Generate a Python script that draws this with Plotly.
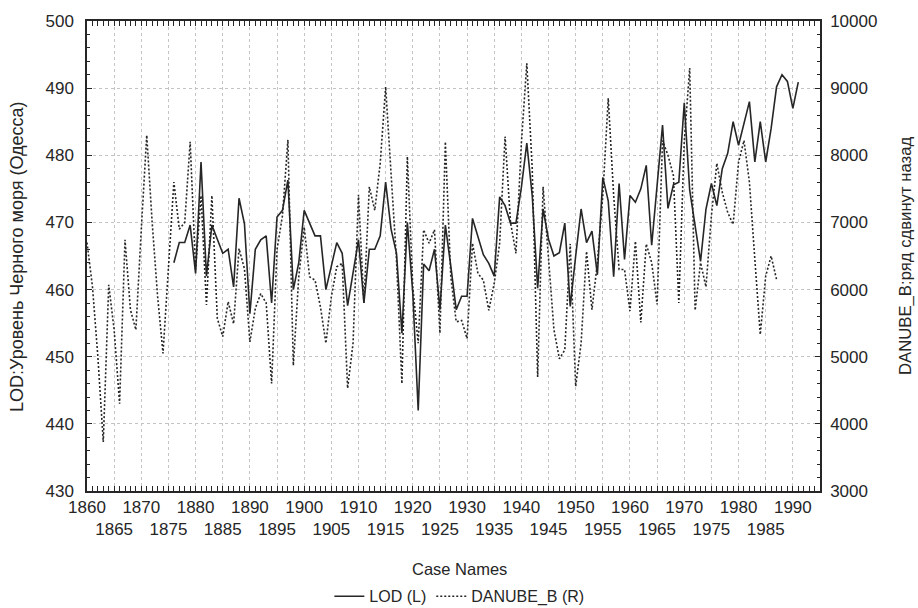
import plotly.graph_objects as go

# ---- data ----
lod_start = 1876
lod = [
    464, 467, 467, 469.6,                                              # 1876-1879
    462.4, 479, 462, 469.6, 467.5, 465.4, 466, 460.4, 473.6, 469.8,    # 1880s
    456.4, 466, 467.4, 468, 458, 470.8, 471.8, 476.3, 460, 464,        # 1890s
    471.8, 470, 468, 468, 460, 463.5, 467, 465.4, 457.6, 462.5,        # 1900s
    467.4, 458, 466, 466, 468, 476, 469, 465.4, 453.5, 470,            # 1910s
    459.5, 442, 463.8, 462.8, 466, 457, 469.6, 463.5, 457, 459,        # 1920s
    459, 470.6, 468, 465.2, 463.9, 462, 473.8, 472.5, 469.9, 469.9,    # 1930s
    475.2, 481.8, 474, 460.2, 472, 467.5, 465, 465.5, 469.9, 457.5,    # 1940s
    465, 472, 467, 468.7, 462.2, 476.7, 473.2, 461.9, 475.8, 464.5,    # 1950s
    474, 473, 475, 478.5, 466.6, 476, 484.5, 472.1, 475.6, 476,        # 1960s
    487.8, 474.8, 469.5, 464.2, 472, 475.8, 472.5, 478, 480.3, 485,    # 1970s
    481.5, 485, 488, 479, 485, 479, 484, 490.2, 492, 491,              # 1980s
    487, 490.9,                                                        # 1990-1991
]
lod_years = list(range(lod_start, lod_start + len(lod)))

danube_start = 1860
danube = [
    6700, 6050, 5000, 3730, 6070, 5400, 4300, 6740, 5700, 5400,   # 1860s
    6900, 8300, 7000, 5900, 5050, 6300, 7600, 6900, 7000, 8200,   # 1870s
    6300, 7400, 5770, 7400, 5570, 5300, 5820, 5490, 6610, 6310,   # 1880s
    5220, 5720, 5940, 5800, 4600, 6600, 7100, 8230, 4870, 6190,   # 1890s
    6930, 6190, 6140, 5740, 5200, 5890, 6340, 6390, 4530, 5200,   # 1900s
    7410, 5800, 7530, 7180, 7880, 9020, 7780, 6440, 4600, 7980,   # 1910s
    6040, 5200, 6890, 6690, 6890, 5350, 8200, 6190, 5520, 5540,   # 1920s
    5270, 6690, 6240, 6140, 5690, 6090, 6690, 8280, 7000, 6540,   # 1930s
    8180, 9370, 7800, 4700, 7530, 6400, 5400, 4970, 5100, 6680,   # 1940s
    4560, 5200, 6570, 5700, 6400, 7400, 8850, 7400, 6300, 6300,   # 1950s
    5680, 6720, 5510, 6680, 6400, 5780, 8220, 8000, 7700, 5800,   # 1960s
    8200, 9300, 5690, 6400, 6040, 7100, 7880, 7450, 7150, 6970,   # 1970s
    7900, 8220, 7600, 6450, 5330, 6200, 6500, 6150,               # 1980-1987
]
danube_years = list(range(danube_start, danube_start + len(danube)))

x_tick_years = list(range(1860, 1995, 5))
x_tick_text = [str(y) if y % 10 == 0 else "<br>" + str(y) for y in x_tick_years]

left_title = "LOD:Уровень Черного моря (Одесса)"
right_title = "DANUBE_B:ряд сдвинут назад"
x_title = "Case Names"
lod_name = "LOD (L)"
danube_name = "DANUBE_B (R)"

# ---- figure ----
ink = "#262626"
grid = "#c4c4c4"
font = dict(family="Liberation Sans, Arial, sans-serif", size=17, color=ink)

fig = go.Figure()
fig.add_trace(go.Scatter(
    x=lod_years, y=lod, name=lod_name, mode="lines",
    line=dict(color=ink, width=1.6),
))
fig.add_trace(go.Scatter(
    x=danube_years, y=danube, name=danube_name, mode="lines", yaxis="y2",
    line=dict(color=ink, width=1.6, dash="2px,2px"),
))

fig.update_layout(
    width=918, height=608,
    paper_bgcolor="white", plot_bgcolor="white",
    font=font,
    margin=dict(l=86.6, r=98, t=21, b=116.5, autoexpand=False),
    showlegend=True,
    legend=dict(orientation="h", x=0.508, xanchor="center", y=-0.224, yanchor="middle",
                font=dict(size=16)),
    xaxis=dict(
        range=[1860, 1995], tickmode="array", tickvals=x_tick_years, ticktext=x_tick_text,
        tickangle=0,
        ticks="inside", ticklen=5, tickcolor=ink,
        showgrid=True, gridcolor=grid, griddash="dot", gridwidth=1,
        showline=True, linecolor=ink, linewidth=1.5, mirror="allticks",
        zeroline=False,
        minor=dict(dtick=1, tick0=1860, ticks="inside", ticklen=3, tickcolor=ink, showgrid=False),
    ),
    yaxis=dict(
        range=[430, 500], dtick=10, tick0=430,
        ticks="inside", ticklen=5, tickcolor=ink, ticklabelstandoff=8,
        showgrid=True, gridcolor=grid, griddash="dot", gridwidth=1,
        showline=True, linecolor=ink, linewidth=1.5,
        zeroline=False,
        minor=dict(dtick=2, ticks="inside", ticklen=3, tickcolor=ink, showgrid=False),
    ),
    yaxis2=dict(
        range=[3000, 10000], dtick=1000, tick0=3000, overlaying="y", side="right",
        tickformat="d",
        ticks="inside", ticklen=5, tickcolor=ink, ticklabelstandoff=5,
        showgrid=False, showline=True, linecolor=ink, linewidth=1.5,
        zeroline=False,
        minor=dict(dtick=200, ticks="inside", ticklen=3, tickcolor=ink, showgrid=False),
    ),
    annotations=[
        dict(text=x_title, xref="paper", yref="paper", x=0.508, y=-0.167,
             xanchor="center", yanchor="middle", showarrow=False, font=dict(size=16.5)),
        dict(text=left_title, xref="paper", yref="paper", x=-0.0955, y=0.5,
             xanchor="center", yanchor="middle", textangle=-90, showarrow=False,
             font=dict(size=18)),
        dict(text=right_title, xref="paper", yref="paper", x=1.1159, y=0.5,
             xanchor="center", yanchor="middle", textangle=-90, showarrow=False,
             font=dict(size=16.7)),
    ],
)

fig.write_html(
    "out.html",
    config={"displayModeBar": False},
    post_script="document.body.style.margin='0px';document.body.style.overflow='hidden';",
)
